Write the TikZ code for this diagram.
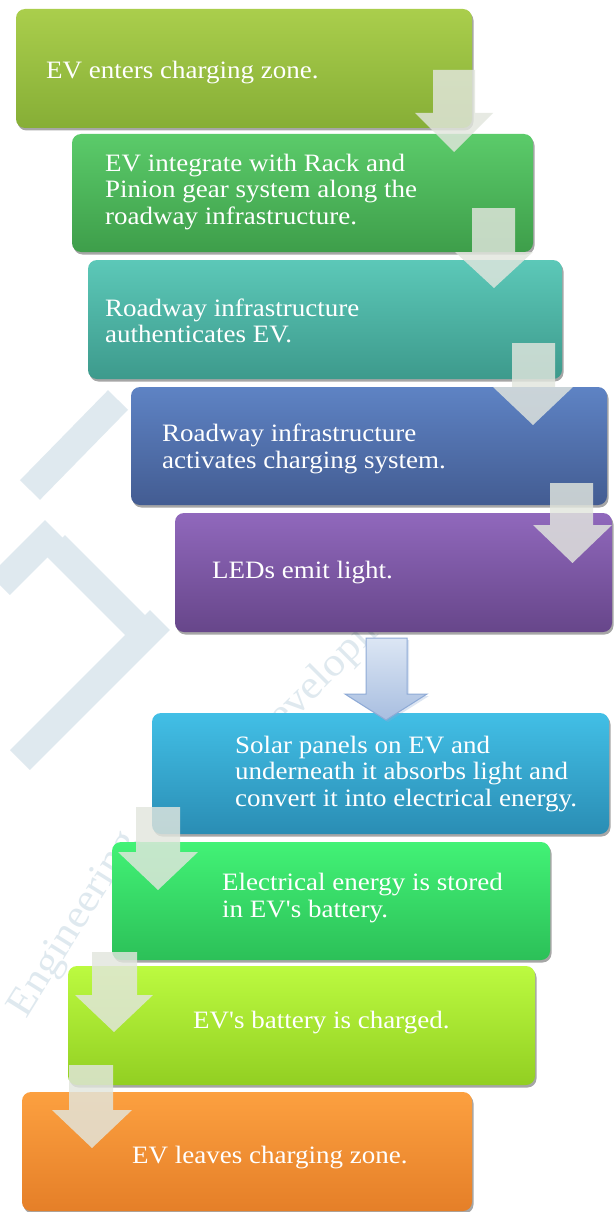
\documentclass[tikz,border=0pt]{standalone}
\usepackage{fontspec}
\newfontfamily\stepfont{Liberation Serif}[FakeStretch=1.08]
\usetikzlibrary{shadows}
\definecolor{wm}{HTML}{DFE9EF}
\definecolor{c1t}{HTML}{AACE4C}\definecolor{c1m}{HTML}{9DC43E}\definecolor{c1b}{HTML}{86AE36}
\definecolor{c2t}{HTML}{5BCB6A}\definecolor{c2m}{HTML}{4DBC5A}\definecolor{c2b}{HTML}{3E9E4A}
\definecolor{c3t}{HTML}{5CC8B8}\definecolor{c3m}{HTML}{4BB5A5}\definecolor{c3b}{HTML}{3D9A8C}
\definecolor{c4t}{HTML}{5E83C4}\definecolor{c4m}{HTML}{5271B0}\definecolor{c4b}{HTML}{435C92}
\definecolor{c5t}{HTML}{9068BC}\definecolor{c5m}{HTML}{7E58A4}\definecolor{c5b}{HTML}{67468A}
\definecolor{c6t}{HTML}{42BFE6}\definecolor{c6m}{HTML}{33A8D4}\definecolor{c6b}{HTML}{2A8DB4}
\definecolor{c7t}{HTML}{42F276}\definecolor{c7m}{HTML}{35DE66}\definecolor{c7b}{HTML}{2CC058}
\definecolor{c8t}{HTML}{BCFA40}\definecolor{c8m}{HTML}{ABEE2E}\definecolor{c8b}{HTML}{92CF22}
\definecolor{c9t}{HTML}{FCA040}\definecolor{c9m}{HTML}{F7922E}\definecolor{c9b}{HTML}{E57F28}
\definecolor{arw}{HTML}{E2E6DE}
\definecolor{bat}{HTML}{DCE6F4}\definecolor{bab}{HTML}{A8BEE0}\definecolor{bae}{HTML}{8EAAD6}
\newcommand\blkarrow[8]{%
  \path[#1] (#2,#4) -- (#3,#4) -- (#3,#7) -- (#6,#7) -- ({(#5+#6)/2},#8) -- (#5,#7) -- (#2,#7) -- cycle;}
\newcommand\stepnode[6]{% name, x1, y1, x2, y2, colour prefix
  \node[stepbox, top color=#6t, middle color=#6m, bottom color=#6b,
        minimum width={(#4-#2)*1pt}, minimum height={(#5-#3)*1pt}] (#1) at ({(#2+#4)/2},{(#3+#5)/2}) {};}
\begin{document}
\begin{tikzpicture}[x=1pt,y=-1pt,
  stepbox/.style={rounded corners=9pt, inner sep=0pt, draw=none,
    drop shadow={shadow xshift=1.5pt, shadow yshift=-2.5pt, opacity=0.35, fill=black}},
  steptext/.style={anchor=west, inner sep=0pt, align=left, text=white,
    font=\stepfont\fontsize{25}{26.5}\selectfont},
  flowarrow/.style={fill=arw, fill opacity=0.82},
  wmband/.style={draw=wm, line width=28pt},
  wmtext/.style={text=wm, font=\stepfont\fontsize{40}{40}\selectfont}]
\useasboundingbox (0,0) rectangle (613,1212);
\fill[white] (0,0) rectangle (613,1212);
% faint watermark
\draw[wmband] (30,490) -- (118,400);
\draw[wmband] (0,585) -- (55,530);
\draw[wmband] (55,545) -- (150,640);
\draw[wmband] (20,760) -- (160,620);
\node[wmtext, rotate=45] (wm1) at (325,675) {Developing};
\node[wmtext, rotate=58] (wm2) at (75,925) {Engineering};
% boxes
\stepnode{b1}{16}{9}{472}{128}{c1}
\stepnode{b2}{72}{134}{533}{252}{c2}
\stepnode{b3}{88}{260}{562}{379}{c3}
\stepnode{b4}{131}{387}{607}{505}{c4}
\stepnode{b5}{175}{513}{612}{632}{c5}
\stepnode{b6}{152}{713}{609}{834}{c6}
\stepnode{b7}{112}{842}{550}{960}{c7}
\stepnode{b8}{68}{966}{535}{1085}{c8}
\stepnode{b9}{22}{1092}{472}{1211}{c9}
% texts
\node[steptext] (t1) at (46,73) {EV enters charging zone.};
\node[steptext] (t2) at (105,192) {EV integrate with Rack and\\Pinion gear system along the\\roadway infrastructure.};
\node[steptext] (t3) at (105,321) {Roadway infrastructure\\authenticates EV.};
\node[steptext] (t4) at (162,449) {Roadway infrastructure\\activates charging system.};
\node[steptext] (t5) at (212,573) {LEDs emit light.};
\node[steptext] (t6) at (235,774) {Solar panels on EV and\\underneath it absorbs light and\\convert it into electrical energy.};
\node[steptext] (t7) at (222,898) {Electrical energy is stored\\in EV's battery.};
\node[steptext] (t8) at (193,1023) {EV's battery is charged.};
\node[steptext] (t9) at (132,1158) {EV leaves charging zone.};
% arrows
\blkarrow{flowarrow}{433}{475}{70}{415}{493}{113}{152}
\blkarrow{flowarrow}{472}{515}{208}{455}{533}{252}{288}
\blkarrow{flowarrow}{512}{555}{343}{493}{573}{387}{425}
\blkarrow{flowarrow}{550}{593}{483}{533}{612}{525}{563}
\blkarrow{flowarrow}{136}{180}{807}{118}{198}{852}{890}
\blkarrow{flowarrow}{92}{137}{952}{75}{153}{995}{1032}
\blkarrow{flowarrow}{69}{113}{1065}{52}{132}{1110}{1148}
\blkarrow{top color=bat, bottom color=bab, draw=bae, line width=1pt,
  drop shadow={shadow xshift=2pt, shadow yshift=-2pt, opacity=0.3, fill=bae}}{366}{407}{638}{345}{427}{694}{720}
\end{tikzpicture}
\end{document}
